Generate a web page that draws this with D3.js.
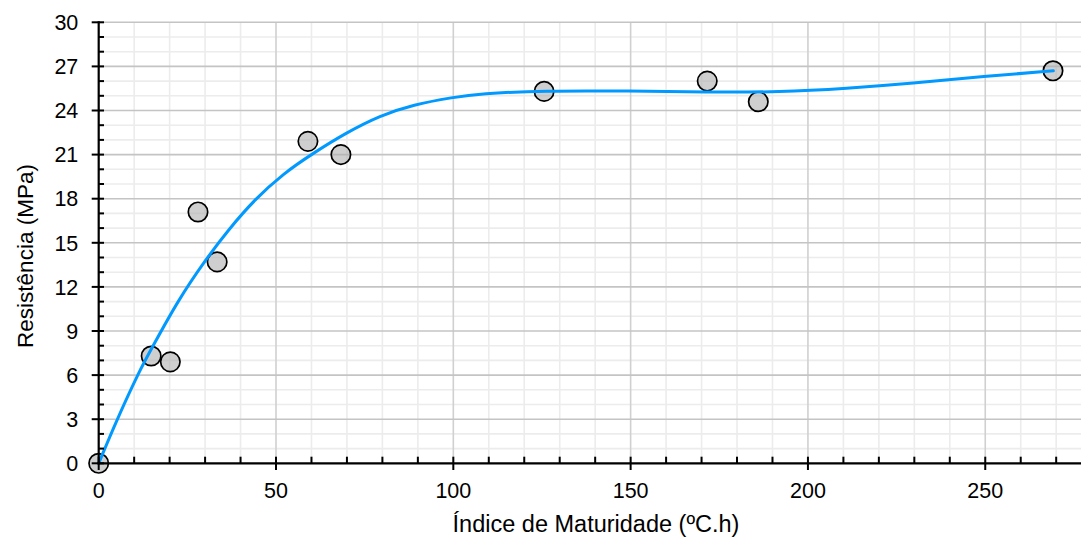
<!DOCTYPE html>
<html>
<head>
<meta charset="utf-8">
<script src="https://cdn.jsdelivr.net/npm/d3@7"></script>
<style>
  html, body { margin: 0; padding: 0; background: #fff; }
  svg { display: block; font-family: "Liberation Sans", Arial, sans-serif; }
</style>
</head>
<body>
<svg id="chart" width="1081" height="537"></svg>
<script>
// Measured data points
const pointsX = [0, 14.8, 20.2, 28.0, 33.4, 59.0, 68.3, 125.6, 171.6, 186.0, 269.1];
const pointsY = [0, 7.3, 6.9, 17.1, 13.7, 21.9, 21.0, 25.3, 26.0, 24.6, 26.7];

// Fitted curve
const curveX = [0, 5, 11.6, 14.9, 22.4, 30, 36.6, 44, 52, 60.5, 69.9, 79.3, 88.7, 100, 107.5, 125.4, 149.8, 171.5, 192.1, 210.9, 229.7, 248.5, 269.2];
const curveY = [0, 2.9, 6.35, 7.8, 11.1, 13.8, 15.9, 17.95, 19.7, 21.1, 22.5, 23.65, 24.4, 24.9, 25.15, 25.35, 25.33, 25.24, 25.25, 25.5, 25.85, 26.3, 26.7];

// Ticks
const xMajorTicks = [0, 50, 100, 150, 200, 250];
const xMinorTicks = [10, 20, 30, 40, 60, 70, 80, 90, 110, 120, 130, 140, 160, 170, 180, 190, 210, 220, 230, 240, 260, 270];
const yMajorTicks = [0, 3, 6, 9, 12, 15, 18, 21, 24, 27, 30];
const yMinorTicks = [1, 2, 4, 5, 7, 8, 10, 11, 13, 14, 16, 17, 19, 20, 22, 23, 25, 26, 28, 29];

const xTitle = "Índice de Maturidade (ºC.h)";
const yTitle = "Resistência (MPa)";

const svg = d3.select("#chart");
const x = d3.scaleLinear().domain([0, 277]).range([98.7, 1081]);
const y = d3.scaleLinear().domain([0, 30]).range([463.3, 22.3]);

const grid = svg.append("g");
// minor grid
grid.selectAll(".vmin").data(xMinorTicks).join("line")
  .attr("x1", d => x(d)).attr("x2", d => x(d))
  .attr("y1", y(0)).attr("y2", y(30))
  .attr("stroke", "#ececec").attr("stroke-width", 1.6);
grid.selectAll(".hmin").data(yMinorTicks).join("line")
  .attr("x1", x(0)).attr("x2", 1081)
  .attr("y1", d => y(d)).attr("y2", d => y(d))
  .attr("stroke", "#ececec").attr("stroke-width", 1.6);
// major grid
grid.selectAll(".vmaj").data(xMajorTicks.filter(d => d > 0)).join("line")
  .attr("x1", d => x(d)).attr("x2", d => x(d))
  .attr("y1", y(0)).attr("y2", y(30))
  .attr("stroke", "#d0d0d0").attr("stroke-width", 1.6);
grid.selectAll(".hmaj").data(yMajorTicks.filter(d => d > 0)).join("line")
  .attr("x1", x(0)).attr("x2", 1081)
  .attr("y1", d => y(d)).attr("y2", d => y(d))
  .attr("stroke", "#c4c4c4").attr("stroke-width", 1.6);

// points (drawn under axes, semi-transparent fill)
svg.append("g").selectAll("circle")
  .data(pointsX.map((d, i) => [d, pointsY[i]]))
  .join("circle")
  .attr("cx", d => x(d[0])).attr("cy", d => y(d[1]))
  .attr("r", 9.7)
  .attr("fill", "rgba(175,175,175,0.6)")
  .attr("stroke", "#000").attr("stroke-width", 1.7);

// curve
const line = d3.line().x(d => x(d[0])).y(d => y(d[1])).curve(d3.curveBasis);
svg.append("path")
  .datum(curveX.map((d, i) => [d, curveY[i]]))
  .attr("d", line)
  .attr("fill", "none")
  .attr("stroke", "#0099ff")
  .attr("stroke-width", 3)
  .attr("stroke-linecap", "round");

// X axis
const xAxisG = svg.append("g").attr("transform", `translate(0,${y(0)})`);
xAxisG.append("line").attr("x1", x(0) - 1).attr("x2", 1081).attr("y1", 0).attr("y2", 0)
  .attr("stroke", "#000").attr("stroke-width", 2.2);
xAxisG.selectAll(".xmaj").data(xMajorTicks).join("line")
  .attr("x1", d => x(d)).attr("x2", d => x(d)).attr("y1", -6.6).attr("y2", 6.7)
  .attr("stroke", "#000").attr("stroke-width", 2);
xAxisG.selectAll(".xmin").data(xMinorTicks).join("line")
  .attr("x1", d => x(d)).attr("x2", d => x(d)).attr("y1", -6.6).attr("y2", 0)
  .attr("stroke", "#000").attr("stroke-width", 2);
xAxisG.selectAll(".xlab").data(xMajorTicks).join("text")
  .attr("x", d => x(d)).attr("y", 34.8)
  .attr("text-anchor", "middle").attr("font-size", 21.5).attr("fill", "#000")
  .text(d => d);

// Y axis
const yAxisG = svg.append("g").attr("transform", `translate(${x(0)},0)`);
yAxisG.append("line").attr("x1", 0).attr("x2", 0).attr("y1", y(30) - 1).attr("y2", y(0) + 1)
  .attr("stroke", "#000").attr("stroke-width", 2.2);
yAxisG.selectAll(".ymaj").data(yMajorTicks).join("line")
  .attr("x1", -7).attr("x2", 5.3).attr("y1", d => y(d)).attr("y2", d => y(d))
  .attr("stroke", "#000").attr("stroke-width", 2);
yAxisG.selectAll(".ymin").data(yMinorTicks).join("line")
  .attr("x1", 0).attr("x2", 5.3).attr("y1", d => y(d)).attr("y2", d => y(d))
  .attr("stroke", "#000").attr("stroke-width", 2);
yAxisG.selectAll(".ylab").data(yMajorTicks).join("text")
  .attr("x", -20.4).attr("y", d => y(d)).attr("dy", "0.36em")
  .attr("text-anchor", "end").attr("font-size", 21.5).attr("fill", "#000")
  .text(d => d);

// Titles
svg.append("text")
  .attr("x", 596).attr("y", 532)
  .attr("text-anchor", "middle").attr("font-size", 23.5).attr("fill", "#000")
  .text(xTitle);
svg.append("text")
  .attr("transform", `translate(33,256) rotate(-90)`)
  .attr("text-anchor", "middle").attr("font-size", 22.5).attr("fill", "#000")
  .text(yTitle);
</script>
</body>
</html>
